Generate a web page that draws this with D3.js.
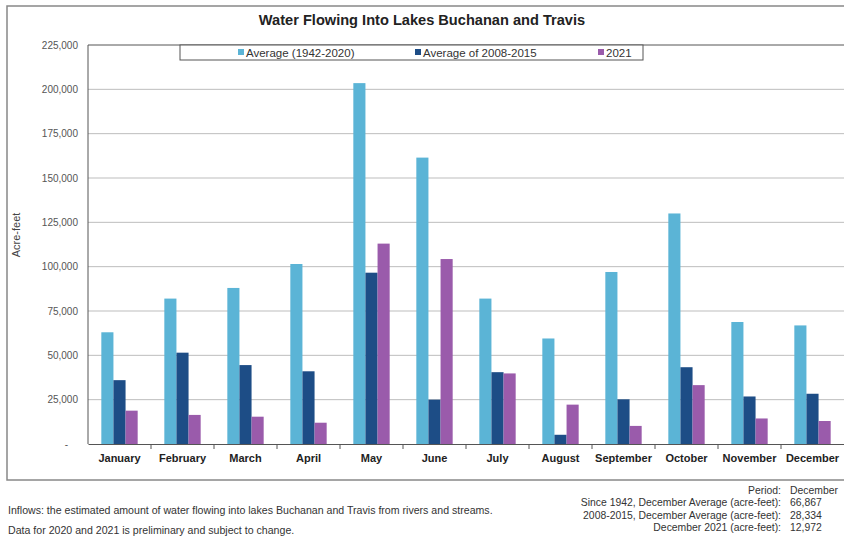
<!DOCTYPE html>
<html>
<head>
<meta charset="utf-8">
<script src="https://cdn.jsdelivr.net/npm/d3@7"></script>
<style>
  body { margin: 0; background: #fff; }
  svg { font-family: "Liberation Sans", Arial, sans-serif; }
</style>
</head>
<body>
<svg id="chart" width="844" height="537"></svg>
<script>
//////// Data
var months = ["January", "February", "March", "April", "May", "June", "July",
  "August", "September", "October", "November", "December"]
var seriesNames = ["Average (1942-2020)", "Average of 2008-2015", "2021"]
var avgLong = [63000, 82000, 88000, 101500, 203500, 161500, 82000, 59500, 97000, 130000, 68800, 66867]
var avg0815 = [36000, 51500, 44500, 41000, 96600, 25000, 40500, 5200, 25200, 43300, 26800, 28334]
var y2021 = [18800, 16400, 15400, 12000, 113000, 104300, 39800, 22200, 10200, 33200, 14400, 12972]
var yTicks = [0, 25000, 50000, 75000, 100000, 125000, 150000, 175000, 200000, 225000]
var colors = ["#5bb4d6", "#1d4d86", "#9a5bab"]

var footLeft = [
  "Inflows: the estimated amount of water flowing into lakes Buchanan and Travis from rivers and streams.",
  "Data for 2020 and 2021 is preliminary and subject to change."
]
var footLabels = ["Period:", "Since 1942, December Average (acre-feet):",
  "2008-2015, December Average (acre-feet):", "December 2021 (acre-feet):"]
var footValues = ["December", "66,867", "28,334", "12,972"]

var svg = d3.select("#chart")
var m = { l: 88, r: 844, t: 45, b: 444 }

// outer frame
svg.append("rect").attr("x", 7).attr("y", 6).attr("width", 850).attr("height", 474)
  .attr("fill", "none").attr("stroke", "#888").attr("stroke-width", 1.5)

svg.append("text").attr("x", 422).attr("y", 25).attr("text-anchor", "middle")
  .style("font-size", "14.6px").style("font-weight", "bold").attr("fill", "#222")
  .text("Water Flowing Into Lakes Buchanan and Travis")

var x = d3.scaleBand().domain(months).range([m.l, m.r])
var xs = d3.scaleBand().domain(d3.range(3)).range([0, x.bandwidth()]).paddingOuter(1.1)
var y = d3.scaleLinear().domain([0, 225000]).range([m.b, m.t])

// gridlines
svg.append("g").selectAll("line").data(yTicks.slice(1)).join("line")
  .attr("x1", m.l).attr("x2", m.r)
  .attr("y1", d => y(d)).attr("y2", d => y(d))
  .attr("stroke", d => d === 225000 ? "#555" : "#bdbdbd").attr("stroke-width", 1)
svg.append("line").attr("x1", m.l).attr("x2", m.l).attr("y1", m.t).attr("y2", m.b)
  .attr("stroke", "#555")

// y axis
var yAxis = d3.axisLeft(y).tickValues(yTicks).tickSize(0).tickPadding(10)
  .tickFormat(d => d === 0 ? "-" : d3.format(",")(d))
var gy = svg.append("g").attr("transform", "translate(" + m.l + ",0)").call(yAxis)
gy.select(".domain").remove()
gy.selectAll("text").style("font-size", "10px").attr("fill", "#555")
gy.selectAll(".tick").filter(d => d === 0).select("text").attr("dx", -10)

svg.append("text").attr("transform", "translate(20,235) rotate(-90)")
  .attr("text-anchor", "middle").style("font-size", "11px").attr("fill", "#444")
  .text("Acre-feet")

// bars
var series = [avgLong, avg0815, y2021]
series.forEach(function (vals, i) {
  svg.append("g").selectAll("rect").data(months).join("rect")
    .attr("x", d => x(d) + xs(i))
    .attr("y", (d, j) => y(vals[j]))
    .attr("width", xs.bandwidth())
    .attr("height", (d, j) => y(0) - y(vals[j]))
    .attr("fill", colors[i])
})

// x axis
var xAxis = d3.axisBottom(x).tickSize(0).tickPadding(10)
var gx = svg.append("g").attr("transform", "translate(0," + m.b + ")").call(xAxis)
gx.select(".domain").attr("stroke", "#555")
gx.selectAll("text").style("font-size", "11px").style("font-weight", "bold").attr("fill", "#222")
gx.append("g").selectAll("line").data(months.slice(1)).join("line")
  .attr("x1", d => x(d)).attr("x2", d => x(d)).attr("y1", 0).attr("y2", 5)
  .attr("stroke", "#555")

// legend
var lg = svg.append("g")
lg.append("rect").attr("x", 180).attr("y", 45).attr("width", 463).attr("height", 15)
  .attr("fill", "#fff").attr("stroke", "#555")
var legX = [238, 415, 598]
seriesNames.forEach(function (n, i) {
  lg.append("rect").attr("x", legX[i]).attr("y", 49).attr("width", 6).attr("height", 6)
    .attr("fill", colors[i])
  lg.append("text").attr("x", legX[i] + 8).attr("y", 56.5).style("font-size", "11.5px")
    .attr("fill", "#333").text(n)
})

// footer notes
svg.append("g").selectAll("text").data(footLeft).join("text")
  .attr("x", 8).attr("y", (d, i) => 514 + i * 20)
  .style("font-size", "10.6px").attr("fill", "#333").text(d => d)
svg.append("g").selectAll("text").data(footLabels).join("text")
  .attr("x", 781).attr("y", (d, i) => 494 + i * 12.3).attr("text-anchor", "end")
  .style("font-size", "10.4px").attr("fill", "#333").text(d => d)
svg.append("g").selectAll("text").data(footValues).join("text")
  .attr("x", 790).attr("y", (d, i) => 494 + i * 12.3)
  .style("font-size", "10.4px").attr("fill", "#333").text(d => d)
</script>
</body>
</html>
